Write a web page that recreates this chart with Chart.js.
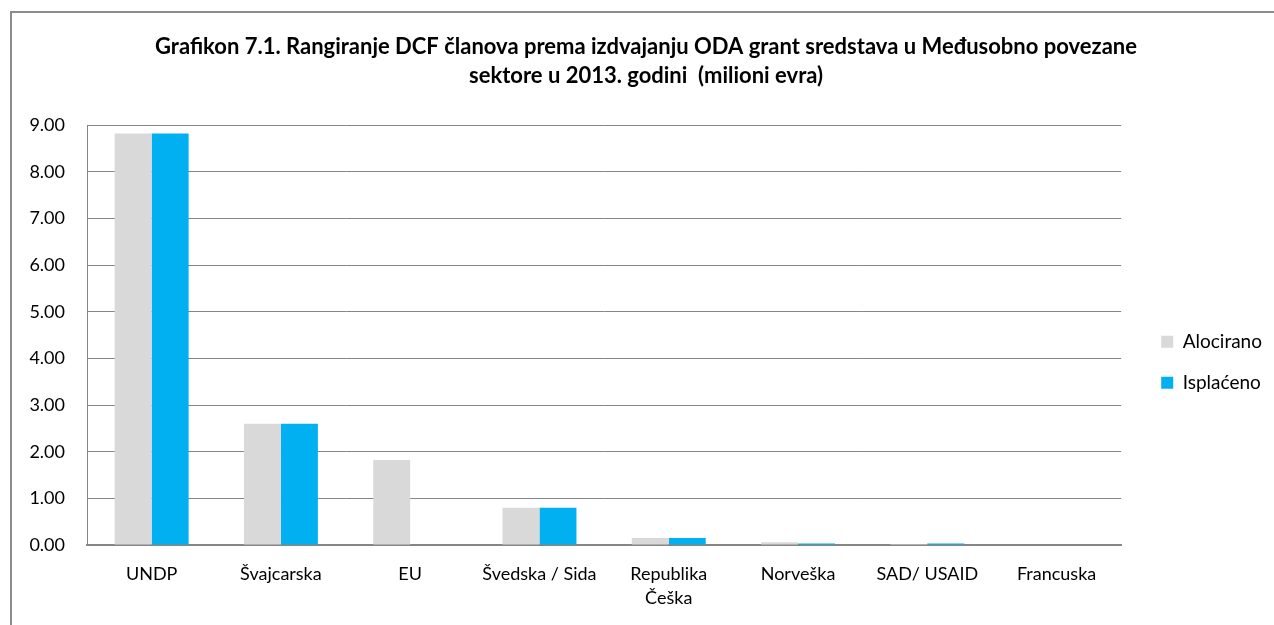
<!DOCTYPE html>
<html><head><meta charset="utf-8">
<script src="https://cdn.jsdelivr.net/npm/chart.js@4.4.1/dist/chart.umd.min.js"></script>
<style>html,body{margin:0;padding:0;background:#fff;}#wrap{position:relative;width:1274px;height:625px;}</style>
</head><body><div id="wrap"><canvas id="c" width="1274" height="625"></canvas></div>
<script>
const categories = ["UNDP", "Švajcarska", "EU", "Švedska / Sida", ["Republika", "Češka"], "Norveška", "SAD/ USAID", "Francuska"];
const alocirano = [8.82, 2.60, 1.82, 0.80, 0.15, 0.06, 0.02, 0.00];
const isplaceno = [8.82, 2.60, 0.00, 0.80, 0.15, 0.03, 0.03, 0.00];
const seriesNames = ["Alocirano", "Isplaćeno"];
const titleLines = ["Grafikon 7.1. Rangiranje DCF članova prema izdvajanju ODA grant sredstava u Međusobno povezane", "sektore u 2013. godini  (milioni evra)"];

const FONT = "Lato";
const frame = {
  id: 'frame',
  beforeDraw(chart) {
    const ctx = chart.ctx;
    ctx.save();
    ctx.strokeStyle = '#8c8c8c';
    ctx.lineWidth = 2;
    ctx.strokeRect(11, 12, 1400, 800);
    ctx.restore();
  }
};

new Chart(document.getElementById('c'), {
  type: 'bar',
  data: {
    labels: categories,
    datasets: [
      { label: seriesNames[0], data: alocirano, backgroundColor: '#D9D9D9', borderWidth: 0 },
      { label: seriesNames[1], data: isplaceno, backgroundColor: '#00B0F0', borderWidth: 0 }
    ]
  },
  options: {
    responsive: false,
    animation: false,
    events: [],
    layout: { padding: { left: 20, right: 2, top: 33, bottom: 0 } },
    datasets: { bar: { categoryPercentage: 0.572, barPercentage: 1.0 } },
    plugins: {
      title: {
        display: true,
        text: titleLines,
        color: '#000',
        font: { family: FONT, size: 22, weight: 'bold', lineHeight: 1.3 },
        padding: { top: 0, bottom: 35 }
      },
      legend: {
        position: 'right',
        align: 'center',
        title: { display: true, text: ' ', padding: { top: 46, bottom: 0 }, font: { family: FONT, size: 17 } },
        labels: {
          boxWidth: 12, boxHeight: 12, padding: 22,
          color: '#000',
          font: { family: FONT, size: 19 }
        }
      },
      tooltip: { enabled: false }
    },
    scales: {
      x: {
        grid: { display: false, drawTicks: false },
        border: { display: true, color: '#868686', width: 2 },
        ticks: { color: '#000', font: { family: FONT, size: 18, lineHeight: 1.35 }, padding: 17, maxRotation: 0, autoSkip: false },
        afterFit: s => { s.height = 80; }
      },
      y: {
        min: 0, max: 9,
        grid: { color: '#868686', lineWidth: 1, drawTicks: false },
        border: { display: true, color: '#868686', width: 1 },
        ticks: { stepSize: 1, color: '#000', font: { family: FONT, size: 18 }, padding: 22, callback: v => v.toFixed(2) },
        afterFit: s => { s.width = 67; }
      },
      y2: {
        position: 'right',
        display: true,
        grid: { display: false, drawTicks: false },
        border: { display: false },
        ticks: { display: false },
        afterFit: s => { s.width = 18; }
      }
    }
  },
  plugins: [frame]
});
</script></body></html>
